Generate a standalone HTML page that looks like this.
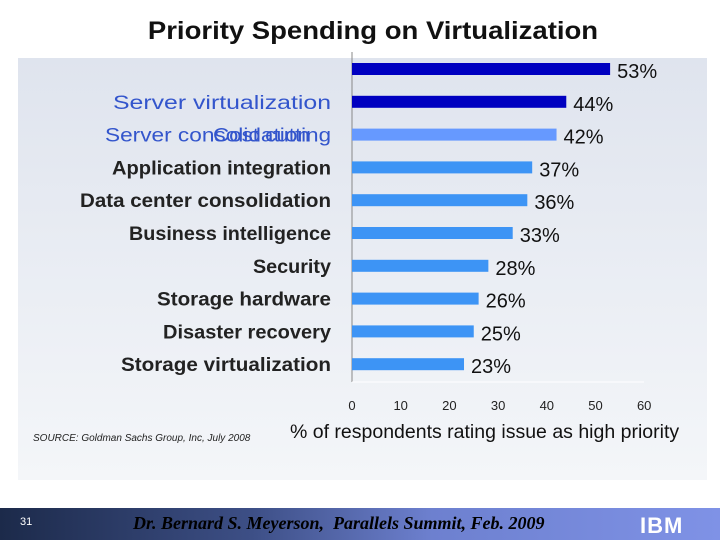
<!DOCTYPE html>
<html><head><meta charset="utf-8"><style>
body{margin:0;width:720px;height:540px;position:relative;background:#fff;font-family:"Liberation Sans",sans-serif;overflow:hidden}
.t{position:absolute;white-space:nowrap}
</style></head><body>
<div class="t" style="left:0;width:746px;text-align:center;top:17px;font-size:25px;font-weight:bold;color:#111;transform:scaleX(1.1)">Priority Spending on Virtualization</div>
<div style="position:absolute;left:18px;top:58px;width:689px;height:422px;background:linear-gradient(#dfe4ee,#f4f6f9)"></div>
<svg id="c" width="720" height="540" style="position:absolute;left:0;top:0"></svg>
<div class="t" style="left:33px;top:433px;font-size:10px;font-style:italic;color:#222">SOURCE: Goldman Sachs Group, Inc, July 2008</div>
<div class="t" style="left:290px;top:421px;font-size:19.5px;color:#111">% of respondents rating issue as high priority</div>
<div style="position:absolute;left:0;top:508px;width:720px;height:32px;background:linear-gradient(90deg,#1c2a4a 0%,#3d4f86 35%,#6d80cf 60%,#7f92e6 100%)"></div>
<div class="t" style="left:20px;top:516px;font-size:11px;color:#fff">31</div>
<div class="t" style="left:133px;top:513px;font-family:'Liberation Serif',serif;font-style:italic;font-weight:bold;font-size:18px;color:#000">Dr. Bernard S. Meyerson,&nbsp; Parallels Summit, Feb. 2009</div>
<div class="t" style="left:640px;top:513px;font-size:22px;font-weight:bold;color:#fff;letter-spacing:1px">IBM</div>
<script>
const categories=["","Server virtualization","Cost cutting","Application integration","Data center consolidation","Business intelligence","Security","Storage hardware","Disaster recovery","Storage virtualization"];
const values=[53,44,42,37,36,33,28,26,25,23];
const colors=["#0000c0","#0000c0","#6699ff","#3d94f5","#3d94f5","#3d94f5","#3d94f5","#3d94f5","#3d94f5","#3d94f5"];
const ticks=[0,10,20,30,40,50,60];
const labelW=[0,218,118,219,251,202,78,174,168,210];
const NS="http://www.w3.org/2000/svg",svg=document.getElementById('c');
const x=v=>352+v*4.87, y=i=>69+i*32.8;
function mk(t,a,txt){const e=document.createElementNS(NS,t);for(const k in a)e.setAttribute(k,a[k]);if(txt!==undefined)e.textContent=txt;svg.appendChild(e);return e;}
let ax=mk('line',{x1:352,y1:52,x2:352,y2:382,stroke:'#888','stroke-width':1});


let bx=mk('line',{x1:352,y1:382,x2:644,y2:382,stroke:'#fff','stroke-width':1});


values.forEach((v,i)=>{
 let r=mk('rect',{x:352,y:y(i)-6,width:x(v)-352,height:12,fill:colors[i]});
 
 
 let l=mk('text',{x:x(v)+7,y:y(i)+9,'font-size':20,fill:'#111'},v+'%');
 
 
 const c=categories[i];
 if(c){
  const blue=i<=2;
  let t=mk('text',{x:331,y:y(i)+7,'text-anchor':'end','font-size':19,fill:blue?'#3355cc':'#222','font-weight':blue?'normal':'bold',textLength:labelW[i],lengthAdjust:'spacingAndGlyphs'},c);
  
  
 }
});
let sc=mk('text',{x:105,y:y(2)+7,'font-size':19,fill:'#3355cc',textLength:205,lengthAdjust:'spacingAndGlyphs'},'Server consolidation');


ticks.forEach(t=>{
 let e=mk('text',{x:x(t),y:410,'text-anchor':'middle','font-size':13,fill:'#222'},t);
 
 
});
</script>
</body></html>
